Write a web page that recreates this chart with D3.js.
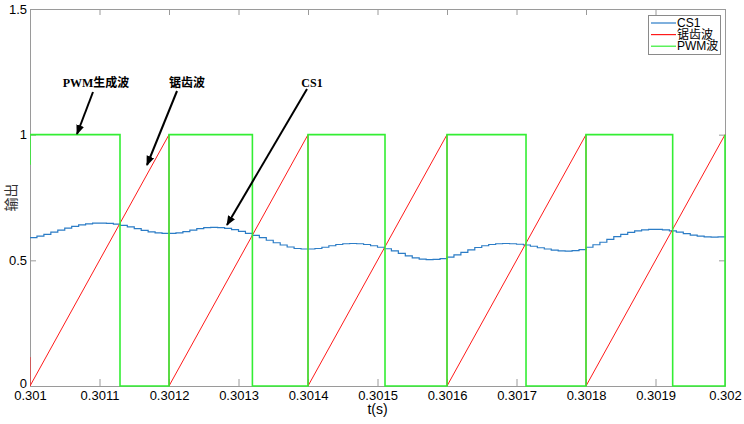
<!DOCTYPE html>
<html>
<head>
<meta charset="utf-8">
<script src="https://cdn.jsdelivr.net/npm/d3@7"></script>
<style>
body { margin: 0; background: #fff; }
svg { display: block; }
</style>
</head>
<body>
<svg id="chart" width="744" height="424"></svg>
<script>
// axis ticks
var xTicks = [0.301, 0.3011, 0.3012, 0.3013, 0.3014, 0.3015, 0.3016, 0.3017, 0.3018, 0.3019, 0.302];
var xTickLabels = ["0.301", "0.3011", "0.3012", "0.3013", "0.3014", "0.3015", "0.3016", "0.3017", "0.3018", "0.3019", "0.302"];
var yTicks = [0, 0.5, 1, 1.5];
var yTickLabels = ["0", "0.5", "1", "1.5"];

var cs1Start = 0.301, cs1Step = 0.00001;
var cs1 = [0.590, 0.596, 0.603, 0.612, 0.620, 0.628, 0.635, 0.641, 0.645, 0.648,
           0.648, 0.647, 0.644, 0.639, 0.633, 0.626, 0.619, 0.613, 0.609, 0.607,
           0.607, 0.609, 0.614, 0.620, 0.626, 0.630, 0.631, 0.630, 0.627, 0.622,
           0.615, 0.607, 0.599, 0.590, 0.580, 0.570, 0.561, 0.553, 0.547, 0.545,
           0.545, 0.547, 0.552, 0.558, 0.563, 0.566, 0.567, 0.566, 0.563, 0.558,
           0.552, 0.546, 0.538, 0.528, 0.518, 0.510, 0.505, 0.503, 0.504, 0.507,
           0.513, 0.522, 0.532, 0.542, 0.551, 0.558, 0.563, 0.566, 0.567, 0.566,
           0.564, 0.561, 0.556, 0.550, 0.545, 0.541, 0.538, 0.537, 0.539, 0.543,
           0.552, 0.562, 0.572, 0.583, 0.594, 0.603, 0.611, 0.617, 0.621, 0.623,
           0.623, 0.621, 0.617, 0.612, 0.606, 0.600, 0.596, 0.593, 0.592, 0.593,
           0.596];

// sawtooth corner points [t, value]
var saw = [[0.301, 0.115], [0.301, 0], [0.3012, 1], [0.3012, 0], [0.3014, 1], [0.3014, 0],
           [0.3016, 1], [0.3016, 0], [0.3018, 1], [0.3018, 0], [0.302, 1]];

// PWM edges
var pwmRise = [0.301, 0.3012, 0.3014, 0.3016, 0.3018, 0.302];
var pwmFall = [0.3011295, 0.301320, 0.3015108, 0.3017137, 0.3019247];
var pwmStartLevel = 0.88;

var legendNames = ["CS1", "锯齿波", "PWM波"];
var colors = ["#2b7cc6", "#ff1a1a", "#33ee33"];

var W = 744, H = 424;
var pLeft = 30, pRight = 725, pTop = 9, pBottom = 386;
var svg = d3.select('#chart');
svg.append('rect').attr('width', W).attr('height', H).attr('fill', '#fff');

var x = d3.scaleLinear().domain([0.301, 0.302]).range([pLeft, pRight]);
var y = d3.scaleLinear().domain([0, 1.5]).range([pBottom, pTop]);

svg.append('defs').append('clipPath').attr('id', 'clip')
  .append('rect').attr('x', pLeft).attr('y', pTop - 1).attr('width', pRight - pLeft + 1).attr('height', pBottom - pTop + 2);

var axisColor = '#9a9a9a';
function styleAxis(g){
  g.selectAll('path,line').attr('stroke', axisColor);
  g.selectAll('text').attr('fill', '#000').attr('font-family', 'Liberation Sans, Arial, sans-serif').attr('font-size', 13);
}

svg.append('g').attr('transform', 'translate(0,' + pBottom + ')')
  .call(d3.axisBottom(x).tickValues(xTicks).tickSize(-7).tickSizeOuter(0).tickPadding(5)
    .tickFormat(function(d, i){ return xTickLabels[i]; }))
  .call(styleAxis);
svg.append('g').attr('transform', 'translate(0,' + pTop + ')')
  .call(d3.axisTop(x).tickValues(xTicks).tickSize(-6).tickSizeOuter(0).tickFormat(''))
  .call(styleAxis);
var yAxisG = svg.append('g').attr('transform', 'translate(' + pLeft + ',0)')
  .call(d3.axisLeft(y).tickValues(yTicks).tickSize(-6).tickSizeOuter(0).tickPadding(3)
    .tickFormat(function(d, i){ return yTickLabels[i]; }))
  .call(styleAxis);
// lift the "0" label a little, like the reference
yAxisG.selectAll('.tick text').filter(function(d){ return d === 0; }).attr('dy', '0.1em');
svg.append('g').attr('transform', 'translate(' + pRight + ',0)')
  .call(d3.axisRight(y).tickValues(yTicks).tickSize(-6).tickSizeOuter(0).tickFormat(''))
  .call(styleAxis);

// axis titles
svg.append('text').attr('x', (pLeft + pRight) / 2).attr('y', 414).attr('text-anchor', 'middle')
  .attr('font-family', 'Liberation Sans, Arial, sans-serif').attr('font-size', 14).text('t(s)');
svg.append('text').attr('transform', 'translate(16,' + ((pTop + pBottom) / 2) + ') rotate(-90)')
  .attr('text-anchor', 'middle').attr('font-family', 'Noto Sans CJK SC, sans-serif').attr('font-size', 14)
  .attr('fill', '#333').text('输出');

var plot = svg.append('g').attr('clip-path', 'url(#clip)');

// CS1
var csLine = d3.line()
  .x(function(d, i){ return x(cs1Start + i * cs1Step); })
  .y(function(d){ return y(d); })
  .curve(d3.curveStepAfter);
plot.append('path').datum(cs1).attr('d', csLine)
  .attr('fill', 'none').attr('stroke', colors[0]).attr('stroke-width', 1.2);

// sawtooth
var ptLine = d3.line().x(function(d){ return x(d[0]); }).y(function(d){ return y(d[1]); });
plot.append('path').datum(saw).attr('d', ptLine)
  .attr('fill', 'none').attr('stroke', colors[1]).attr('stroke-width', 1);

// PWM
var pwm = [[pwmRise[0], pwmStartLevel]];
pwmRise.forEach(function(r, i){
  pwm.push([r, 0 === i ? pwmStartLevel : 0]);
  pwm.push([r, 1]);
  if (i < pwmFall.length) {
    pwm.push([pwmFall[i], 1]);
    pwm.push([pwmFall[i], 0]);
  }
});
plot.append('path').datum(pwm).attr('d', ptLine)
  .attr('fill', 'none').attr('stroke', colors[2]).attr('stroke-width', 1.6);

// annotations
svg.select('defs').append('marker').attr('id', 'arrow')
  .attr('viewBox', '0 0 10 10').attr('refX', 9).attr('refY', 5)
  .attr('markerWidth', 5).attr('markerHeight', 5).attr('orient', 'auto')
  .append('path').attr('d', 'M0,1 L10,5 L0,9 Z').attr('fill', '#000');

var notes = [
  {text: 'PWM生成波', tx: 96, ty: 87, x1: 93, y1: 92, x2: 77, y2: 134},
  {text: '锯齿波', tx: 187, ty: 87, x1: 177, y1: 91, x2: 147, y2: 165},
  {text: 'CS1', tx: 312, ty: 87, x1: 307, y1: 89, x2: 227, y2: 225}
];
notes.forEach(function(n){
  svg.append('text').attr('x', n.tx).attr('y', n.ty).attr('text-anchor', 'middle')
    .attr('font-family', 'Liberation Serif, Noto Sans CJK SC, serif').attr('font-size', 12)
    .attr('font-weight', 'bold').text(n.text);
  svg.append('line').attr('x1', n.x1).attr('y1', n.y1).attr('x2', n.x2).attr('y2', n.y2)
    .attr('stroke', '#000').attr('stroke-width', 2).attr('marker-end', 'url(#arrow)');
});

// legend
var lg = svg.append('g');
lg.append('rect').attr('x', 648.5).attr('y', 15.5).attr('width', 72).attr('height', 39)
  .attr('fill', '#fff').attr('stroke', '#8a8a8a');
legendNames.forEach(function(name, i){
  var yy = 23 + i * 11.6;
  lg.append('line').attr('x1', 651).attr('x2', 676).attr('y1', yy).attr('y2', yy)
    .attr('stroke', colors[i]).attr('stroke-width', 1.2);
  lg.append('text').attr('x', 677).attr('y', yy + 4)
    .attr('font-family', 'Liberation Sans, Noto Sans CJK SC, sans-serif').attr('font-size', 12)
    .text(name);
});
</script>
</body>
</html>
